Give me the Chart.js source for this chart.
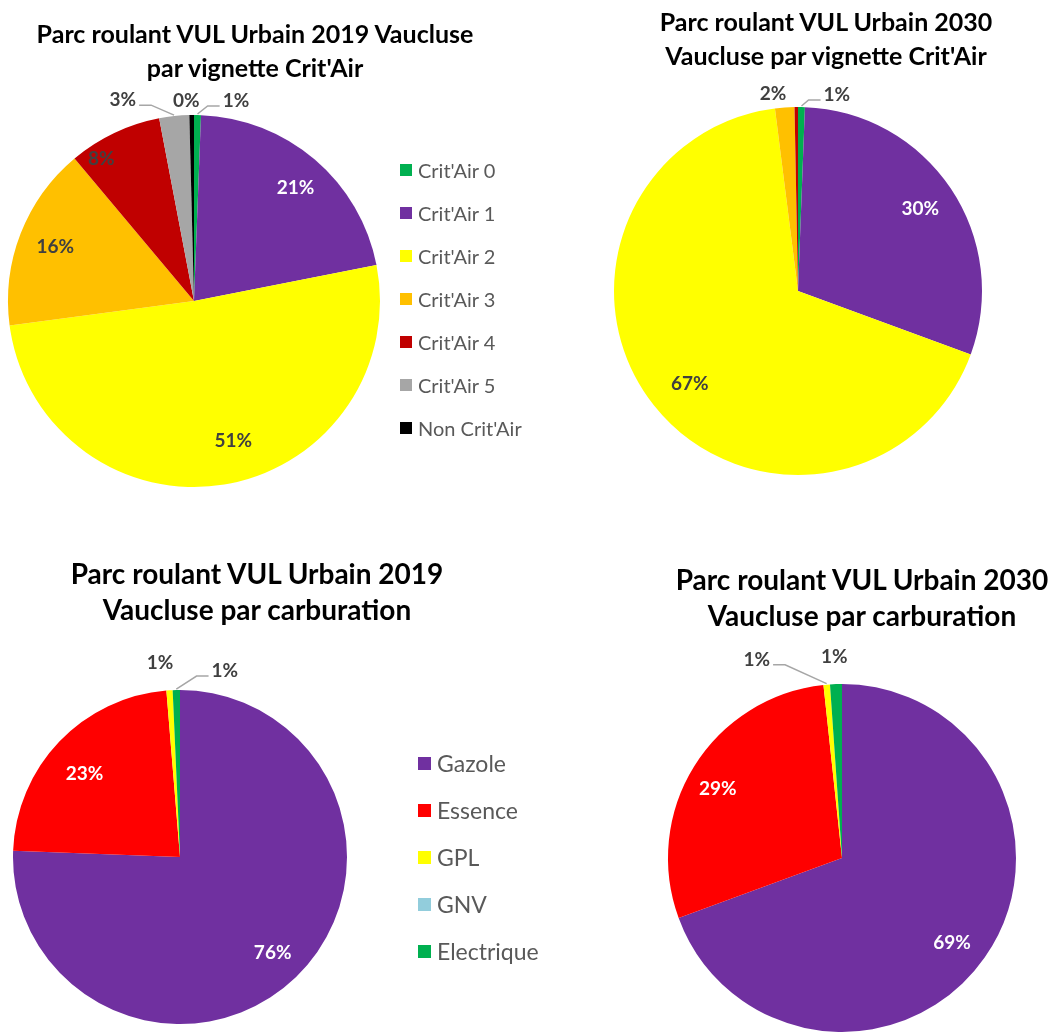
<!DOCTYPE html>
<html>
<head>
<meta charset="utf-8">
<title>Parc roulant VUL Urbain Vaucluse</title>
<script src="https://cdn.jsdelivr.net/npm/chart.js@4.4.1/dist/chart.umd.min.js"></script>
<style>
  body { margin: 0; background: #fff; font-family: Lato, "Open Sans", sans-serif; }
  .panel { position: absolute; }
  .title { position: absolute; width: 640px; text-align: center; font-weight: bold; color: #000; white-space: nowrap; }
  .legend-item { position: absolute; color: #595959; white-space: nowrap; display: flex; align-items: center; }
  .legend-item span.sw { display: inline-block; }
</style>
</head>
<body>
<div id="root"></div>
<script>
/* ── Parc roulant VUL Urbain – Vaucluse ── */

// ── Data ────────────────────────────────────────────────────────────────────
const critairLabels = ["Crit'Air 0", "Crit'Air 1", "Crit'Air 2", "Crit'Air 3", "Crit'Air 4", "Crit'Air 5", "Non Crit'Air"];
const critairColors = ["#00B050", "#7030A0", "#FFFF00", "#FFC000", "#C00000", "#A6A6A6", "#000000"];
const critair2019 = [0.6, 21.3, 51.0, 16.0, 8.1, 2.6, 0.4];
const critair2030 = [0.6, 30.0, 67.4, 1.7, 0.3, 0, 0];

const carbLabels = ["Gazole", "Essence", "GPL", "GNV", "Electrique"];
const carbColors = ["#7030A0", "#FF0000", "#FFFF00", "#92CDDC", "#00B050"];
const carb2019 = [75.6, 23.1, 0.6, 0, 0.7];
const carb2030 = [69.4, 28.9, 0.6, 0, 1.1];

// labels drawn in white on these slices, dark grey elsewhere
const whiteText = ["#7030A0", "#FF0000"];

// ── Layout ──────────────────────────────────────────────────────────────────
const panels = [
  {
    box: [0, 0, 526, 510], cx: 194, cy: 301, r: 186,
    labels: critairLabels, colors: critairColors, data: critair2019,
    title: ["Parc roulant VUL Urbain 2019 Vaucluse", "par vignette Crit'Air"],
    titleX: 255, titleY: 33, titleGap: 34, titleSize: 25,
    legend: { x: 400, y: 170, gap: 43, box: 12, size: 20 },
    shifts: { 0: [38, 8], 1: [5, 0], 2: [15, -7], 4: [-29, -8], 5: [-49, 6], 6: [-5, 8] },
  },
  {
    box: [526, 0, 527, 510], cx: 798, cy: 291, r: 184,
    labels: critairLabels, colors: critairColors, data: critair2030,
    title: ["Parc roulant VUL Urbain 2030", "Vaucluse par vignette Crit'Air"],
    titleX: 826, titleY: 21, titleGap: 34, titleSize: 25,
    legend: null,
    shifts: { 0: [35, 10], 2: [7, 1], 3: [-10, 8] },
  },
  {
    box: [0, 510, 526, 526], cx: 180, cy: 857, r: 167,
    labels: carbLabels, colors: carbColors, data: carb2019,
    title: ["Parc roulant VUL Urbain 2019", "Vaucluse par carburation"],
    titleX: 257, titleY: 573, titleGap: 36, titleSize: 28,
    legend: { x: 418, y: 763, gap: 47, box: 13, size: 23 },
    shifts: { 1: [1, 9], 2: [-8, -5], 4: [49, 3] },
  },
  {
    box: [526, 510, 527, 526], cx: 842, cy: 858, r: 174,
    labels: carbLabels, colors: carbColors, data: carb2030,
    title: ["Parc roulant VUL Urbain 2030", "Vaucluse par carburation"],
    titleX: 862, titleY: 579, titleGap: 36, titleSize: 28,
    legend: null,
    shifts: { 0: [-4, 5], 1: [-6, 4], 2: [-68, -3], 4: [-1, -5] },
  },
];

// ── Slice labels plugin ─────────────────────────────────────────────────────
const sliceLabels = {
  id: "sliceLabels",
  afterDatasetsDraw(chart, args, opts) {
    const ctx = chart.ctx;
    const ds = chart.data.datasets[0];
    const total = ds.data.reduce((s, v) => s + v, 0);
    const shifts = opts.shifts || {};
    ctx.save();
    ctx.font = "bold 19px Lato, 'Open Sans', sans-serif";
    ctx.textAlign = "center";
    ctx.textBaseline = "middle";
    chart.getDatasetMeta(0).data.forEach((arc, i) => {
      const v = ds.data[i];
      if (v < 0.35) return;
      const share = (v / total) * 100;
      const text = Math.round(share) + "%";
      const mid = (arc.startAngle + arc.endAngle) / 2;
      const r = arc.outerRadius;
      const small = share < 5;
      const rad = small ? r + 22 : r * 0.8;
      const [dx, dy] = shifts[i] || [0, 0];
      const lx = arc.x + Math.cos(mid) * rad + dx;
      const ly = arc.y + Math.sin(mid) * rad + dy;

      if (small) {
        const ax = arc.x + Math.cos(mid) * (r + 1);
        const ay = arc.y + Math.sin(mid) * (r + 1);
        if (Math.hypot(lx - ax, ly - ay) > 32) {
          const w = ctx.measureText(text).width;
          const side = lx > ax ? -1 : 1;
          const sx = lx + side * (w / 2 + 3);
          const sy = ly + 5;
          ctx.beginPath();
          ctx.moveTo(sx, sy);
          ctx.lineTo(sx + side * 12, sy);
          ctx.lineTo(ax, ay);
          ctx.strokeStyle = "#A6A6A6";
          ctx.lineWidth = 1.5;
          ctx.stroke();
        }
      }

      const col = ds.backgroundColor[i];
      ctx.fillStyle = !small && whiteText.includes(col) ? "#FFFFFF" : "#404040";
      ctx.fillText(text, lx, ly);
    });
    ctx.restore();
  },
};

// ── Build ───────────────────────────────────────────────────────────────────
const root = document.getElementById("root");

function addTitle(p) {
  p.title.forEach((line, k) => {
    const el = document.createElement("div");
    el.className = "title";
    el.textContent = line;
    el.style.fontSize = p.titleSize + "px";
    el.style.lineHeight = p.titleGap + "px";
    el.style.left = (p.titleX - 320) + "px";
    el.style.top = (p.titleY + k * p.titleGap - p.titleGap / 2) + "px";
    root.appendChild(el);
  });
}

function addLegend(p) {
  const lg = p.legend;
  if (!lg) return;
  p.labels.forEach((lab, i) => {
    const row = document.createElement("div");
    row.className = "legend-item";
    row.style.left = lg.x + "px";
    row.style.top = (lg.y + i * lg.gap - 15) + "px";
    row.style.height = "30px";
    row.style.fontSize = lg.size + "px";
    const sw = document.createElement("span");
    sw.className = "sw";
    sw.style.width = lg.box + "px";
    sw.style.height = lg.box + "px";
    sw.style.background = p.colors[i];
    sw.style.marginRight = "6px";
    const tx = document.createElement("span");
    tx.textContent = lab;
    row.appendChild(sw);
    row.appendChild(tx);
    root.appendChild(row);
  });
}

function addPie(p) {
  const [bx, by, bw, bh] = p.box;
  const wrap = document.createElement("div");
  wrap.className = "panel";
  wrap.style.left = bx + "px";
  wrap.style.top = by + "px";
  const cv = document.createElement("canvas");
  cv.width = bw;
  cv.height = bh;
  wrap.appendChild(cv);
  root.appendChild(wrap);

  new Chart(cv.getContext("2d"), {
    type: "pie",
    data: {
      labels: p.labels,
      datasets: [{
        data: p.data,
        backgroundColor: p.colors,
        borderWidth: 0,
      }],
    },
    options: {
      responsive: false,
      devicePixelRatio: 1,
      animation: false,
      layout: {
        padding: {
          left: p.cx - p.r - bx,
          top: p.cy - p.r - by,
          right: bx + bw - (p.cx + p.r),
          bottom: by + bh - (p.cy + p.r),
        },
      },
      plugins: {
        legend: { display: false },
        tooltip: { enabled: false },
        sliceLabels: { shifts: p.shifts },
      },
    },
    plugins: [sliceLabels],
  });
}

panels.forEach((p) => {
  addPie(p);
  addTitle(p);
  addLegend(p);
});
</script>
</body>
</html>
